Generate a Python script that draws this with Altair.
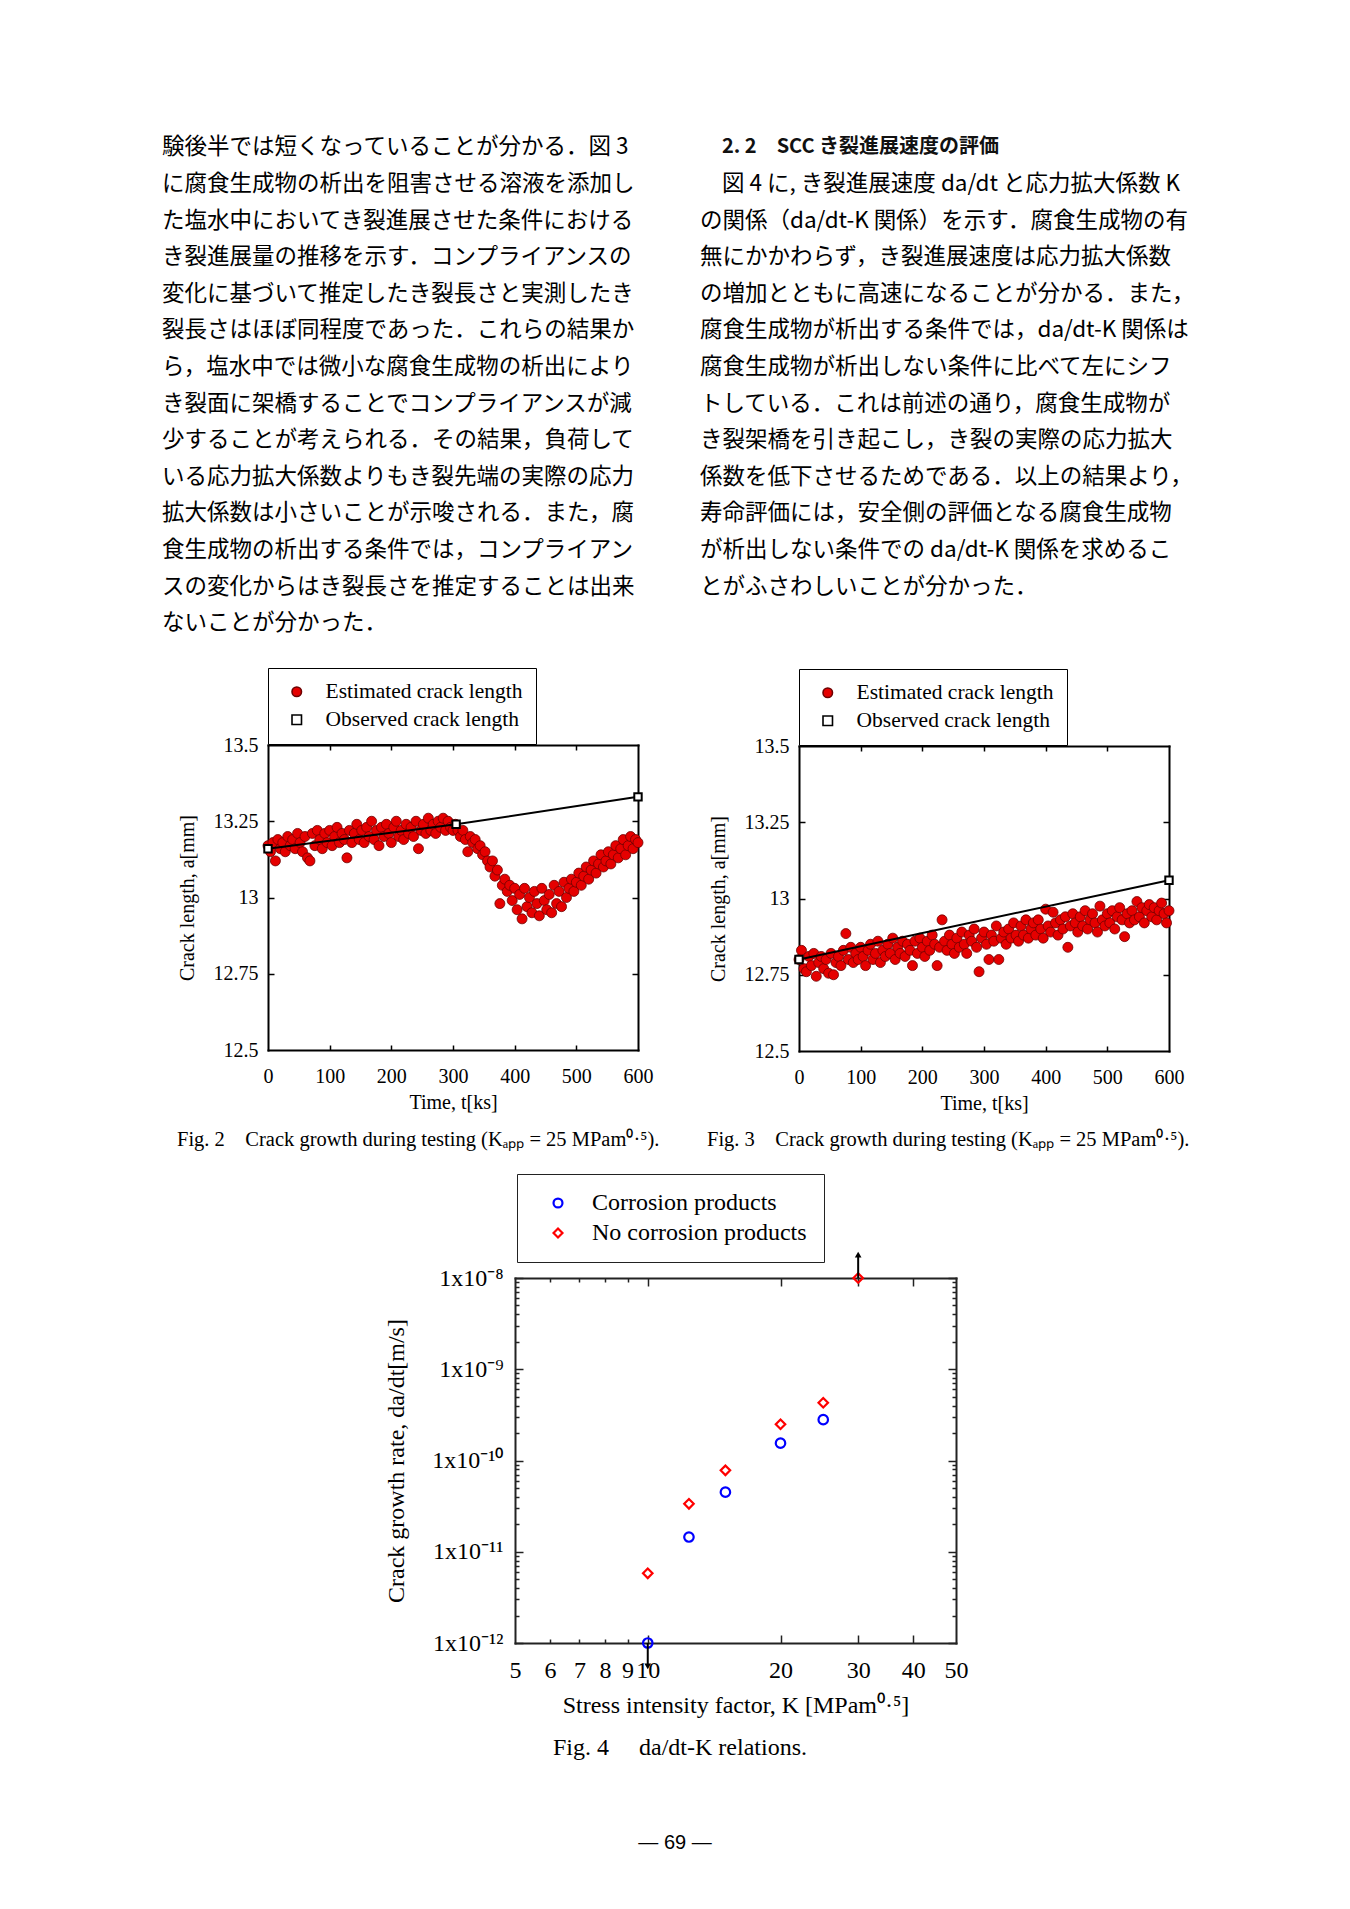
import altair as alt
import pandas as pd

W, H = 1334, 1893  # drawing area (page minus 8px margins)

SERIF = "Liberation Serif"
CJK = "Noto Sans CJK JP"
SANS = "Liberation Sans"

# ---------------- page text ----------------
LEFT_LINES = [
    "験後半では短くなっていることが分かる．図 3",
    "に腐食生成物の析出を阻害させる溶液を添加し",
    "た塩水中においてき裂進展させた条件における",
    "き裂進展量の推移を示す．コンプライアンスの",
    "変化に基づいて推定したき裂長さと実測したき",
    "裂長さはほぼ同程度であった．これらの結果か",
    "ら，塩水中では微小な腐食生成物の析出により",
    "き裂面に架橋することでコンプライアンスが減",
    "少することが考えられる．その結果，負荷して",
    "いる応力拡大係数よりもき裂先端の実際の応力",
    "拡大係数は小さいことが示唆される．また，腐",
    "食生成物の析出する条件では，コンプライアン",
    "スの変化からはき裂長さを推定することは出来",
    "ないことが分かった．",
]
HEADING = "2. 2　SCC き裂進展速度の評価"
RIGHT_LINES = [
    "図 4 に, き裂進展速度 da/dt と応力拡大係数 K",
    "の関係（da/dt-K 関係）を示す．腐食生成物の有",
    "無にかかわらず，き裂進展速度は応力拡大係数",
    "の増加とともに高速になることが分かる．また，",
    "腐食生成物が析出する条件では，da/dt-K 関係は",
    "腐食生成物が析出しない条件に比べて左にシフ",
    "トしている．これは前述の通り，腐食生成物が",
    "き裂架橋を引き起こし，き裂の実際の応力拡大",
    "係数を低下させるためである．以上の結果より，",
    "寿命評価には，安全側の評価となる腐食生成物",
    "が析出しない条件での da/dt-K 関係を求めるこ",
    "とがふさわしいことが分かった．",
]
CAP2 = "Fig. 2\u2003Crack growth during testing (Kₐₚₚ = 25 MPam⁰·⁵)."
CAP3 = "Fig. 3\u2003Crack growth during testing (Kₐₚₚ = 25 MPam⁰·⁵)."
CAP4 = "Fig. 4\u2003 da/dt-K relations."
PAGE_NO = "— 69 —"

# ---------------- Fig. 2 / Fig. 3 data ----------------
EST = "Estimated crack length"
OBS = "Observed crack length"

TIME_KS = [
    0, 4, 8, 12, 16, 20, 24, 28, 32, 36, 40, 44, 48, 52, 56, 60, 64, 68, 72, 76,
    80, 84, 88, 92, 96, 100, 104, 108, 112, 116, 120, 124, 128, 132, 136, 140, 144, 148, 152, 156,
    160, 164, 168, 172, 176, 180, 184, 188, 192, 196, 200, 204, 208, 212, 216, 220, 224, 228, 232, 236,
    240, 244, 248, 252, 256, 260, 264, 268, 272, 276, 280, 284, 288, 292, 296, 300, 304, 308, 312, 316,
    320, 324, 328, 332, 336, 340, 344, 348, 352, 356, 360, 364, 368, 372, 376, 380, 384, 388, 392, 396,
    400, 404, 408, 412, 416, 420, 424, 428, 432, 436, 440, 444, 448, 452, 456, 460, 464, 468, 472, 476,
    480, 484, 488, 492, 496, 500, 504, 508, 512, 516, 520, 524, 528, 532, 536, 540, 544, 548, 552, 556,
    560, 564, 568, 572, 576, 580, 584, 588, 592, 596, 600,
]
F2_EST = [
    13.17, 13.15, 13.18, 13.12, 13.19, 13.16, 13.18, 13.15, 13.20, 13.17, 13.19, 13.16, 13.21, 13.18, 13.15, 13.20, 13.13, 13.12, 13.21, 13.17,
    13.22, 13.19, 13.16, 13.21, 13.18, 13.22, 13.17, 13.20, 13.23, 13.18, 13.21, 13.19, 13.13, 13.22, 13.18, 13.21, 13.24, 13.19, 13.22, 13.18,
    13.23, 13.20, 13.25, 13.19, 13.22, 13.17, 13.23, 13.20, 13.24, 13.21, 13.18, 13.23, 13.25, 13.20, 13.22, 13.19, 13.24, 13.21, 13.23, 13.20,
    13.25, 13.16, 13.22, 13.24, 13.21, 13.26, 13.22, 13.24, 13.21, 13.25, 13.23, 13.26, 13.22, 13.25, 13.23, 13.22, 13.24, 13.22, 13.20, 13.22,
    13.19, 13.15, 13.20, 13.18, 13.19, 13.16, 13.17, 13.14, 13.15, 13.12, 13.10, 13.12, 13.07, 13.09, 12.98, 13.04, 13.06, 13.02, 13.04, 12.99,
    13.03, 12.96, 13.01, 12.93, 13.03, 12.97, 13.00, 12.95, 13.02, 12.98, 12.94, 13.03, 12.99, 12.96, 13.01, 12.95, 13.04, 12.98, 13.02, 12.97,
    13.05, 13.00, 13.03, 13.06, 13.02, 13.05, 13.08, 13.04, 13.07, 13.10, 13.06, 13.09, 13.12, 13.08, 13.11, 13.14, 13.10, 13.12, 13.15, 13.11,
    13.14, 13.17, 13.13, 13.16, 13.19, 13.14, 13.17, 13.20, 13.16, 13.19, 13.18,
]
F2_OBS_T = [0, 305, 600]
F2_OBS_A = [13.16, 13.24, 13.33]

F3_EST = [
    12.80, 12.83, 12.77, 12.76, 12.81, 12.78, 12.82, 12.745, 12.79, 12.81, 12.77, 12.80, 12.755, 12.82, 12.75, 12.79, 12.81, 12.78, 12.83, 12.885,
    12.80, 12.84, 12.79, 12.82, 12.80, 12.84, 12.81, 12.78, 12.83, 12.85, 12.80, 12.82, 12.86, 12.79, 12.83, 12.81, 12.85, 12.82, 12.87, 12.80,
    12.84, 12.82, 12.86, 12.81, 12.85, 12.83, 12.78, 12.86, 12.82, 12.87, 12.84, 12.81, 12.86, 12.83, 12.88, 12.85, 12.78, 12.84, 12.93, 12.86,
    12.83, 12.88, 12.85, 12.82, 12.87, 12.84, 12.89, 12.85, 12.82, 12.88, 12.86, 12.90, 12.84, 12.76, 12.87, 12.89, 12.85, 12.80, 12.88, 12.86,
    12.91, 12.80, 12.87, 12.89, 12.85, 12.90, 12.87, 12.92, 12.88, 12.86, 12.91, 12.88, 12.93, 12.87, 12.90, 12.92, 12.88, 12.93, 12.90, 12.87,
    12.965, 12.91, 12.89, 12.955, 12.92, 12.88, 12.93, 12.90, 12.94, 12.84, 12.91, 12.95, 12.92, 12.89, 12.94, 12.91, 12.96, 12.90, 12.93, 12.95,
    12.92, 12.89, 12.975, 12.93, 12.91, 12.95, 12.92, 12.96, 12.90, 12.94, 12.97, 12.93, 12.875, 12.95, 12.92, 12.96, 12.93, 12.99, 12.94, 12.97,
    12.92, 12.96, 12.98, 12.94, 12.97, 12.93, 12.96, 12.985, 12.95, 12.92, 12.96,
]
F3_OBS_T = [0, 600]
F3_OBS_A = [12.80, 13.06]

T_LABELS = [0, 100, 200, 300, 400, 500, 600]
T_TICKS = [100, 200, 300, 400, 500]
A_LABELS = [12.5, 12.75, 13.0, 13.25, 13.5]
A_TICKS = [12.75, 13.0, 13.25]

# ---------------- Fig. 4 data ----------------
CP = "Corrosion products"
NCP = "No corrosion products"
K_CP = [10, 12.4, 15, 20, 25]
RATE_CP = [1.0e-12, 1.45e-11, 4.5e-11, 1.55e-10, 2.8e-10]
K_NCP = [10, 12.4, 15, 20, 25, 30]
RATE_NCP = [5.8e-12, 3.35e-11, 7.8e-11, 2.5e-10, 4.3e-10, 1.0e-8]
BOUND_K = [30, 10]
BOUND_RATE = [1.0e-8, 1.0e-12]
BOUND_DIR = ["up", "down"]
K_LABELS = [5, 6, 7, 8, 9, 10, 20, 30, 40, 50]
K_TICKS = [6, 7, 8, 9, 10, 20, 30, 40]
RATE_LABELS = [1e-12, 1e-11, 1e-10, 1e-9, 1e-8]
RATE_TICKS = [m * 10.0 ** e for e in range(-12, -8) for m in range(1, 10)] + [1e-8]


def lab_axis(orient, offset, values, size, pad, title, title_size=None, **kw):
    return alt.Axis(orient=orient, offset=offset, values=values, ticks=False, tickSize=0,
                    domain=False, grid=False, labelFont=SERIF, labelFontSize=size, labelColor="black",
                    labelPadding=pad, labelFlush=False, labelOverlap=False,
                    title=title, titleFont=SERIF, titleFontSize=title_size or size, titleFontWeight="normal",
                    titleColor="black", **kw)


def tick_axis(orient, offset, values, size, color="black"):
    return alt.Axis(orient=orient, offset=offset, values=values, labels=False, title=None, grid=False,
                    ticks=True, tickSize=size, tickWidth=1.5, tickColor=color,
                    domain=True, domainWidth=2, domainColor=color, domainCap="square")


def crack_figure(est_vals, obs_t, obs_a, x0, x1, yt, yb):
    def xs():
        return alt.Scale(domain=[0, 600], range=[x0, x1], nice=False, zero=False)

    def ys():
        return alt.Scale(domain=[12.5, 13.5], range=[yb, yt], nice=False, zero=False)

    est = pd.DataFrame({"t": TIME_KS, "a": est_vals, "series": EST})
    obs = pd.DataFrame({"t": obs_t, "a": obs_a})
    dom = [EST, OBS]
    leg = alt.Legend(orient="none", legendX=x0, legendY=yt - 77, title=None, direction="vertical",
                     strokeColor="black", fillColor="white", padding=13, rowPadding=5,
                     labelFont=SERIF, labelFontSize=21.5, labelColor="black", labelLimit=400,
                     labelOffset=18, symbolOffset=5, symbolSize=90, symbolStrokeWidth=1.6)
    num = "'' + datum.value"
    pts = alt.Chart(est).mark_point(filled=True, size=100, opacity=1, strokeWidth=0.8).encode(
        x=alt.X("t:Q", scale=xs(), axis=lab_axis("bottom", yb - H, T_LABELS, 20, 16, "Time, t[ks]",
                                                  labelExpr=num, titleY=52, titleBaseline="middle")),
        y=alt.Y("a:Q", scale=ys(), axis=lab_axis("left", -x0, A_LABELS, 20, 10, "Crack length, a[mm]",
                                                  labelExpr=num, titleX=-81, titleY=(yt + yb) / 2,
                                                  titleAngle=270, titleBaseline="middle", titleAlign="center")),
        fill=alt.Fill("series:N", scale=alt.Scale(domain=dom, range=["#e50000", "#ffffff"]), legend=leg),
        stroke=alt.Stroke("series:N", scale=alt.Scale(domain=dom, range=["#6e0000", "#000000"]), legend=leg),
        shape=alt.Shape("series:N", scale=alt.Scale(domain=dom, range=["circle", "square"]), legend=leg),
    )
    line = alt.Chart(obs).mark_line(color="black", strokeWidth=2).encode(
        x=alt.X("t:Q", scale=xs(), axis=tick_axis("top", -yb, T_TICKS, 5)),
        y=alt.Y("a:Q", scale=ys(), axis=tick_axis("right", x0 - W, A_TICKS, 6)),
    )
    sq = alt.Chart(obs).mark_point(shape="square", size=55, filled=False, fill="white", stroke="black",
                                   strokeWidth=2, opacity=1).encode(
        x=alt.X("t:Q", scale=xs(), axis=tick_axis("bottom", yt - H, T_TICKS, 5)),
        y=alt.Y("a:Q", scale=ys(), axis=tick_axis("left", -x1, A_TICKS, 6)),
    )
    return [pts, line, sq]


def rate_figure(x0, x1, yt, yb):
    def xs():
        return alt.Scale(type="log", domain=[5, 50], range=[x0, x1], nice=False)

    def ys():
        return alt.Scale(type="log", domain=[1e-12, 1e-8], range=[yb, yt], nice=False)

    pts_df = pd.concat([
        pd.DataFrame({"K": K_CP, "rate": RATE_CP, "series": CP}),
        pd.DataFrame({"K": K_NCP, "rate": RATE_NCP, "series": NCP}),
    ], ignore_index=True)
    bound_df = pd.DataFrame({"K": BOUND_K, "rate": BOUND_RATE, "dir": BOUND_DIR})
    dom = [CP, NCP]
    leg = alt.Legend(orient="none", legendX=x0 + 2, legendY=yt - 104, title=None, direction="vertical",
                     strokeColor="#222", fillColor="white", padding=17, rowPadding=6,
                     labelFont=SERIF, labelFontSize=24, labelColor="black", labelLimit=400,
                     labelOffset=22, symbolOffset=12, symbolSize=80, symbolStrokeWidth=2.2)
    y_expr = ("datum.value < 5e-12 ? '1x10⁻¹²' : datum.value < 5e-11 ? '1x10⁻¹¹' : "
              "datum.value < 5e-10 ? '1x10⁻¹⁰' : datum.value < 5e-9 ? '1x10⁻⁹' : '1x10⁻⁸'")
    pts = alt.Chart(pts_df).mark_point(filled=False, size=90, strokeWidth=2.2, opacity=1).encode(
        x=alt.X("K:Q", scale=xs(), axis=lab_axis("bottom", yb - H, K_LABELS, 24, 15,
                                                  "Stress intensity factor, K [MPam⁰·⁵]",
                                                  labelExpr="'' + datum.value",
                                                  titleY=62, titleBaseline="middle")),
        y=alt.Y("rate:Q", scale=ys(), axis=lab_axis("left", -x0, RATE_LABELS, 24, 12,
                                                     "Crack growth rate, da/dt[m/s]", labelExpr=y_expr,
                                                     titleX=-119, titleY=(yt + yb) / 2, titleAngle=270,
                                                     titleBaseline="middle", titleAlign="center")),
        stroke=alt.Stroke("series:N", scale=alt.Scale(domain=dom, range=["#0000ff", "#ff0000"]), legend=leg),
        shape=alt.Shape("series:N", scale=alt.Scale(domain=dom, range=["circle", "diamond"]), legend=leg),
    )
    x_major = {"condition": {"test": "datum.value >= 10", "value": 8}, "value": 4}
    y_major = {"condition": {"test": "abs(log(datum.value)/LN10 - round(log(datum.value)/LN10)) < 0.01",
                             "value": 8}, "value": 4}
    arrow_factor = 1.8
    base = alt.Chart(bound_df).transform_calculate(
        tip=f"datum.dir == 'up' ? datum.rate * {arrow_factor} : datum.rate / {arrow_factor}")
    rules = base.mark_rule(color="black", strokeWidth=2).encode(
        x=alt.X("K:Q", scale=xs(), axis=tick_axis("top", -yb, K_TICKS, x_major, "#222")),
        y=alt.Y("rate:Q", scale=ys(), axis=tick_axis("right", x0 - W, RATE_TICKS, y_major, "#222")),
        y2="tip:Q",
    )
    heads = base.mark_point(filled=True, color="black", size=45, opacity=1).encode(
        x=alt.X("K:Q", scale=xs(), axis=tick_axis("bottom", yt - H, K_TICKS, x_major, "#222")),
        y=alt.Y("tip:Q", scale=ys(), axis=tick_axis("left", -x1, RATE_TICKS, y_major, "#222")),
        shape=alt.Shape("dir:N", scale=alt.Scale(domain=["up", "down"], range=["triangle-up", "triangle-down"]),
                        legend=None),
    )
    return [pts, rules, heads]


# ---------------- text layers ----------------
rows = [{"text": s, "col": "L", "line": i} for i, s in enumerate(LEFT_LINES)]
rows += [{"text": s, "col": "R", "line": i + 1} for i, s in enumerate(RIGHT_LINES) if i > 0]
indent_rows = [{"text": RIGHT_LINES[0], "col": "R", "line": 1}]
head_rows = [{"text": HEADING, "col": "R", "line": 0}]


def text_x():
    return alt.X("col:N", scale=alt.Scale(type="point", domain=["L", "R"], range=[154, 692], padding=0), axis=None)


def text_y():
    return alt.Y("line:Q", scale=alt.Scale(domain=[0, 13], range=[139.3, 615.1], nice=False, zero=False), axis=None)


body = alt.Chart(pd.DataFrame(rows)).mark_text(
    align="left", baseline="middle", font=CJK, fontSize=22.5, color="black"
).encode(x=text_x(), y=text_y(), text="text:N")

indented = alt.Chart(pd.DataFrame(indent_rows)).mark_text(
    align="left", baseline="middle", font=CJK, fontSize=22.5, color="black", dx=22
).encode(x=text_x(), y=text_y(), text="text:N")

heading = alt.Chart(pd.DataFrame(head_rows)).mark_text(
    align="left", baseline="middle", font=CJK, fontSize=20, fontWeight="bold", color="#111", dx=22
).encode(x=text_x(), y=text_y(), text="text:N")


def caption(txt, x, y, size, font=SERIF, align="left"):
    return alt.Chart(pd.DataFrame({"text": [txt]})).mark_text(
        align=align, baseline="middle", font=font, fontSize=size, color="black"
    ).encode(text="text:N", x=alt.value(x), y=alt.value(y))


layers = [body, indented, heading]
layers += crack_figure(F2_EST, F2_OBS_T, F2_OBS_A, 260, 630, 737, 1042)
layers += crack_figure(F3_EST, F3_OBS_T, F3_OBS_A, 791, 1161, 738, 1043)
layers += rate_figure(507, 948, 1270, 1635)
layers += [
    caption(CAP2, 169, 1132, 20.5),
    caption(CAP3, 699, 1132, 20.5),
    caption(CAP4, 545, 1740, 24),
    caption(PAGE_NO, 667, 1835, 20, font=SANS, align="center"),
]

chart = alt.layer(*layers).properties(
    width=W, height=H, padding=0, background="white",
    autosize=alt.AutoSizeParams(type="none"),
).resolve_scale(
    x="independent", y="independent", fill="independent", stroke="independent", shape="independent"
).configure_view(strokeWidth=0)

chart.save("out.html", embed_options={"renderer": "svg", "actions": False})
